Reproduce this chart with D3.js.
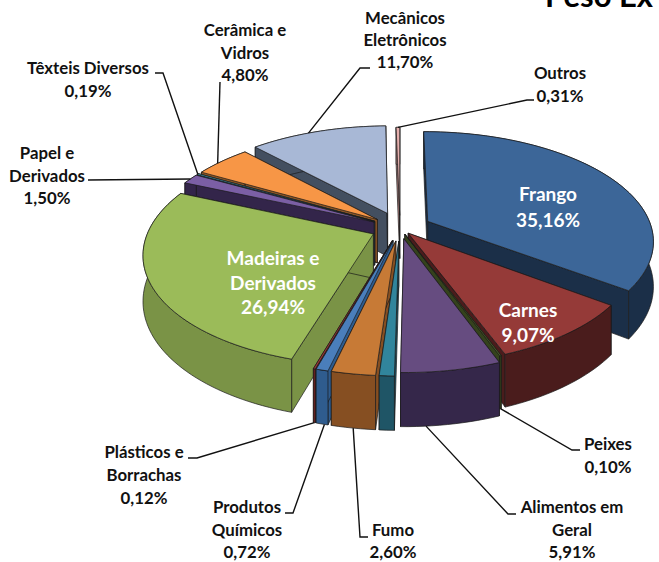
<!DOCTYPE html>
<html>
<head>
<meta charset="utf-8">
<script src="https://cdn.jsdelivr.net/npm/d3@7"></script>
<style>
html, body { margin: 0; padding: 0; background: #fff; overflow: hidden; }
svg { display: block; }
text { font-family: Lato, "Open Sans", sans-serif; font-weight: 700; }
</style>
</head>
<body>
<script>
var categories = ["Frango", "Carnes", "Peixes", "Alimentos em Geral", "(sem rótulo)", "Fumo",
    "Produtos Químicos", "Plásticos e Borrachas", "Madeiras e Derivados", "Papel e Derivados",
    "Têxteis Diversos", "Cerâmica e Vidros", "Mecânicos Eletrônicos", "Outros"];
var values = [35.16, 9.07, 0.10, 5.91, 0.88, 2.60, 0.72, 0.12, 26.94, 1.50, 0.19, 4.80, 11.70, 0.31];
var valueLabels = ["35,16%", "9,07%", "0,10%", "5,91%", "", "2,60%", "0,72%", "0,12%", "26,94%",
    "1,50%", "0,19%", "4,80%", "11,70%", "0,31%"];
var explosions = [0.14, 0.06, 0.06, 0.10, 0.12, 0.12, 0.12, 0.12, 0.13, 0.13, 0.13, 0.13, 0.15, 0.12];
var topColors = ["#3c6698", "#953a38", "#4f6228", "#664c80", "#31859c", "#c77a36", "#4a7ebb", "#a33a38",
    "#9bbb59", "#7b5fa5", "#4bacc6", "#f79646", "#a8b8d6", "#e6b0ae"];
var sideColors = ["#1b2f48", "#4a1c1c", "#34421c", "#35274a", "#1f5566", "#864f22", "#2f5c8e", "#6e2322",
    "#7a9346", "#33254a", "#2c6d80", "#8a5526", "#434f60", "#a87a78"];

var W = 659, H = 562;
var cx = 400, cy = 228;    // pie centre on screen
var radiusX = 224, radiusY = 107, depth = 44;
var persp = 0.17;

var svg = d3.select("body").append("svg").attr("width", W).attr("height", H);

// unit disc -> screen
var xScale = d3.scaleLinear().domain([-1, 1]).range([-radiusX, radiusX]);
var yScale = d3.scaleLinear().domain([-1, 1]).range([-radiusY, radiusY]);

function project(x, y, z) {
    var s = 1 / (1 - persp * y);
    return [cx + xScale(x) * s, cy + (yScale(y) + depth * z) * s];
}

var pie = d3.pie().sort(null).value(function (d) { return d; });
var slices = pie(values).map(function (d, i) {
    var mid = (d.startAngle + d.endAngle) / 2;
    return {
        i: i,
        a0: d.startAngle,
        a1: d.endAngle,
        mid: mid,
        ox: explosions[i] * Math.sin(mid),
        oy: -explosions[i] * Math.cos(mid)
    };
});

function rim(s, a, z) {
    return project(s.ox + Math.sin(a), s.oy - Math.cos(a), z);
}
function apex(s, z) {
    return project(s.ox, s.oy, z);
}
function arcAngles(s) {
    var n = Math.max(2, Math.ceil((s.a1 - s.a0) / 0.03));
    return d3.range(n + 1).map(function (k) { return s.a0 + (s.a1 - s.a0) * k / n; });
}

var path = d3.line();
var g = svg.append("g");

function face(pts, color) {
    g.append("path")
        .attr("d", path(pts) + "Z")
        .attr("fill", color)
        .attr("stroke", "#1a1a1a")
        .attr("stroke-width", 0.7)
        .attr("stroke-linejoin", "round");
}

// back slices first
var order = slices.slice().sort(function (a, b) { return -Math.cos(a.mid) + Math.cos(b.mid); });
order.forEach(function (s) {
    var side = sideColors[s.i];
    var top = topColors[s.i];
    var angles = arcAngles(s);
    face([apex(s, 0), rim(s, s.a0, 0), rim(s, s.a0, 1), apex(s, 1)], side);
    face([apex(s, 0), rim(s, s.a1, 0), rim(s, s.a1, 1), apex(s, 1)], side);
    var upper = angles.map(function (a) { return rim(s, a, 0); });
    var lower = angles.map(function (a) { return rim(s, a, 1); }).reverse();
    face(upper.concat(lower), side);
    face([apex(s, 0)].concat(upper), top);
});

// label layout: text centre x, first baseline, line pitch, leader elbow points, leader end on the rim
var labelLines = [
    ["Frango"], ["Carnes"], ["Peixes"], ["Alimentos em", "Geral"], [], ["Fumo"],
    ["Produtos", "Químicos"], ["Plásticos e", "Borrachas"], ["Madeiras e", "Derivados"],
    ["Papel e", "Derivados"], ["Têxteis Diversos"], ["Cerâmica e", "Vidros"],
    ["Mecânicos", "Eletrônicos"], ["Outros"]
];
var labelLayout = {
    0: { x: 548, y: 201, dy: 26, inside: true },
    1: { x: 528, y: 317, dy: 25, inside: true },
    2: { x: 608, y: 450, dy: 23, elbow: [[580, 450], [572, 450]], z: 1 },
    3: { x: 572, y: 513, dy: 22.5, elbow: [[516, 514], [508, 514]], z: 1, at: 0.75 },
    5: { x: 393, y: 536, dy: 22, elbow: [[368, 537], [360, 537]], z: 1 },
    6: { x: 247, y: 513, dy: 22.5, elbow: [[285, 513], [293, 513]], z: 1, at: 0.3 },
    7: { x: 144, y: 458, dy: 23, elbow: [[188, 458], [197, 458]], z: 1 },
    8: { x: 273, y: 265, dy: 24.5, inside: true },
    9: { x: 47, y: 159, dy: 22.5, elbow: [[88, 180]], z: 0 },
    10: { x: 88, y: 74, dy: 23, elbow: [[155, 73], [163, 73]], z: 0 },
    11: { x: 245, y: 36, dy: 22.5, elbow: [[220, 82]], z: 0, at: 0.4 },
    12: { x: 405, y: 24, dy: 22, elbow: [[370, 68], [360, 68]], z: 0, at: 0.43 },
    13: { x: 560, y: 79, dy: 22.5, elbow: [[534, 100], [527, 100]], z: 0 }
};

var leaders = svg.append("g");
var labels = svg.append("g");

slices.forEach(function (s) {
    var l = labelLayout[s.i];
    if (!l) return;
    var lines = labelLines[s.i].concat([valueLabels[s.i]]);
    if (l.elbow) {
        var a = s.a0 + (s.a1 - s.a0) * (l.at === undefined ? 0.5 : l.at);
        var pts = l.elbow.concat([rim(s, a, l.z)]);
        leaders.append("path")
            .attr("d", path(pts))
            .attr("fill", "none")
            .attr("stroke", "#111")
            .attr("stroke-width", 1.4);
    }
    labels.selectAll(null)
        .data(lines)
        .enter()
        .append("text")
        .text(function (d) { return d; })
        .attr("x", l.x)
        .attr("y", function (d, j) { return l.y + j * l.dy; })
        .attr("text-anchor", "middle")
        .attr("font-size", l.inside ? 19 : 16.8)
        .attr("fill", l.inside ? "#fff" : "#111");
});

svg.append("text")
    .text("Peso Ex")
    .attr("x", 545)
    .attr("y", 7)
    .attr("font-size", 31)
    .attr("fill", "#000");
</script>
</body>
</html>
